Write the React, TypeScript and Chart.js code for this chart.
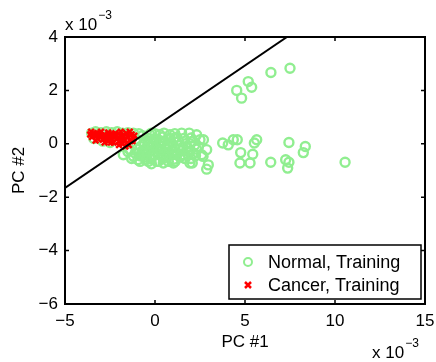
import React, { useEffect, useRef } from "react";
import { Chart, registerables } from "chart.js";

Chart.register(...registerables);

// Principal component scores, in units of 1e-3
const normalX = [
  -3.52, -3.3, -3.0, -2.7, -2.4, -2.1, -1.8, -1.5, -1.2, -0.9, -3.4, -2.9, -2.5, -1.0, -0.7,
  -1.76, -1.2, -1.5, -1.0, -0.8, -0.6, -0.4, -0.3, -0.2, 0.0, 0.28, 0.5, 0.83, 1.1, 1.48, 1.9, 2.31, 2.5, 2.69,
  -0.9, -0.5, -0.3, -0.1, 0.1, 0.3, 0.5, 0.7, 0.9, 1.1, 1.3, 1.5, 1.7, 1.9, 2.1, 2.3,
  0.2, 0.6, 1.0, 1.4, -0.6, -0.2, 0.0, 0.4, 0.8, 1.2, 1.6, 2.0, -0.7, -0.4, 0.15, 0.55, 1.8, 2.2, 2.41, 2.59, 1.57, 2.0,
  -0.83, -0.37, 0.18, 0.74, 1.11, 1.94, 2.07, 0.46, 1.02, 0.09, -0.2,
  -1.4, -1.1, -0.75, -0.45, -0.15, 0.05, 0.35, 0.65, 0.95, 1.25, 1.55, 1.85, 2.15,
  -1.3, -0.95, -0.55, -0.25, 0.25, 0.45, 0.75, 1.05, 1.35, 1.65, 1.95, 2.25,
  -0.35, 0.0, 0.35, 0.7, 1.05, 1.4, -0.85, -0.5, -0.1, 0.3,
  2.87, 2.67, 2.96, 2.87, 3.76, 4.07, 4.35, 4.57, 4.76, 4.72, 5.28, 5.43, 5.52, 5.65, 6.43, 7.26, 7.44, 7.37, 7.44, 8.24, 8.35, 10.56,
  4.54, 4.81, 5.18, 5.37, 6.44, 7.5,
];
const normalY = [
  0.4, 0.45, 0.42, 0.45, 0.42, 0.45, 0.4, 0.42, 0.4, 0.38, 0.2, 0.1, 0.05, 0.15, 0.3,
  -0.41, -0.47, -0.3, -0.2, -0.1, 0.05, 0.2, 0.35, 0.4, 0.38, 0.34, 0.4, 0.34, 0.38, 0.4, 0.4, 0.34, 0.15, 0.15,
  -0.35, -0.3, -0.15, 0.0, 0.15, -0.1, 0.1, -0.2, 0.05, -0.15, 0.1, -0.25, 0.0, -0.3, 0.1, -0.2,
  -0.4, -0.45, -0.4, -0.5, -0.5, -0.55, -0.3, 0.25, 0.2, 0.25, 0.2, 0.22, -0.25, -0.05, -0.2, -0.3, -0.15, -0.05, -0.1, -0.41, -0.41, -0.55,
  -0.66, -0.66, -0.66, -0.66, -0.66, -0.72, -0.72, -0.72, -0.72, -0.66, -0.75,
  -0.22, -0.35, -0.45, -0.4, -0.42, -0.18, -0.25, -0.35, -0.3, -0.38, -0.12, -0.42, -0.35,
  -0.55, -0.6, -0.2, 0.1, 0.05, -0.55, -0.05, -0.58, -0.2, -0.55, 0.0, -0.45,
  0.0, 0.2, 0.1, 0.0, 0.2, -0.05, -0.45, -0.6, -0.4, -0.25,
  -0.22, -0.47, -0.79, -0.95, 0.03, -0.04, 0.15, 0.15, -0.33, -0.72, -0.72, -0.39, 0.03, 0.15, -0.69, -0.6, -0.69, -0.91, 0.05, -0.33, -0.1, -0.69,
  2.0, 1.71, 2.33, 2.12, 2.67, 2.83,
];
const cancerX = [
  -3.6, -3.5, -3.4, -3.3, -3.2, -3.1, -3.0, -2.9, -2.8, -2.7, -2.6, -2.5, -2.4, -2.3, -2.25, -2.1, -2.0, -1.9,
  -1.8, -1.7, -1.6, -1.5, -1.45, -1.35, -1.3, -1.2, -3.55, -3.0, -2.6, -2.2, -1.9, -1.4, -2.0, -1.65, -2.8, -3.3,
  -3.45, -3.15, -2.85, -2.55, -2.45, -2.15, -1.85, -1.55, -1.25, -1.15, -1.75, -2.35, -3.25, -2.95, -2.65,
];
const cancerY = [
  0.35, 0.25, 0.4, 0.3, 0.2, 0.38, 0.28, 0.15, 0.35, 0.22, 0.1, 0.3, 0.18, 0.05, 0.35, 0.2, 0.1, 0.3,
  0.0, 0.15, 0.4, 0.25, -0.05, 0.1, 0.35, 0.2, 0.45, 0.45, 0.42, 0.4, 0.45, 0.45, -0.05, -0.1, 0.05, 0.12,
  0.32, 0.3, 0.25, 0.35, 0.05, 0.3, 0.15, 0.05, 0.1, 0.3, 0.3, 0.28, 0.38, 0.3, 0.18,
];

// Linear decision boundary, end points on the axes frame
const boundaryX = [-5, 7.33];
const boundaryY = [-1.65, 4];

const xTicks = [-5, 0, 5, 10, 15];
const yTicks = [-6, -4, -2, 0, 2, 4];
const seriesLabels = ["Normal, Training", "Cancer, Training"];
const axisTitles = ["PC #1", "PC #2"];
const scaleBase = "x 10";
const scaleExponent = "\u22123";

const GREEN = "#90ee90";
const RED = "#ff0000";
const FONT = "'Liberation Sans', Arial, Helvetica, sans-serif";

const fmt = (v: number) => (v < 0 ? "\u2212" + Math.abs(v) : String(v));

const framePlugin = {
  id: "matlabFrame",
  afterDatasetsDraw(chart: any) {
    const { ctx, chartArea: a, scales } = chart;
    const xs = scales.x;
    const ys = scales.y;
    ctx.save();
    // inward tick marks on all four sides
    ctx.strokeStyle = "#000";
    ctx.lineWidth = 1.5;
    const tl = 4;
    ctx.beginPath();
    xTicks.forEach((t) => {
      const px = xs.getPixelForValue(t);
      ctx.moveTo(px, a.bottom);
      ctx.lineTo(px, a.bottom - tl);
      ctx.moveTo(px, a.top);
      ctx.lineTo(px, a.top + tl);
    });
    yTicks.forEach((t) => {
      const py = ys.getPixelForValue(t);
      ctx.moveTo(a.left, py);
      ctx.lineTo(a.left + tl, py);
      ctx.moveTo(a.right, py);
      ctx.lineTo(a.right - tl, py);
    });
    ctx.stroke();
    // box
    ctx.lineWidth = 2;
    ctx.strokeRect(a.left, a.top, a.right - a.left, a.bottom - a.top);

    // exponent labels
    ctx.fillStyle = "#000";
    ctx.textBaseline = "middle";
    ctx.textAlign = "left";
    const drawExp = (x: number, y: number) => {
      ctx.font = `17px ${FONT}`;
      ctx.fillText(scaleBase, x, y);
      const w = ctx.measureText(scaleBase).width;
      ctx.font = `12px ${FONT}`;
      ctx.fillText(scaleExponent, x + w + 1, y - 9);
    };
    drawExp(a.left, a.top - 12);
    drawExp(a.right - 53, a.bottom + 49);

    // legend
    const lw = 192;
    const lh = 54;
    const lx = a.right - 196;
    const ly = a.bottom - 59;
    ctx.fillStyle = "#fff";
    ctx.fillRect(lx, ly, lw, lh);
    ctx.lineWidth = 1.5;
    ctx.strokeStyle = "#000";
    ctx.strokeRect(lx, ly, lw, lh);
    const mx = lx + 19;
    const r1 = ly + 17;
    const r2 = ly + 40;
    ctx.lineWidth = 2;
    ctx.strokeStyle = GREEN;
    ctx.beginPath();
    ctx.arc(mx, r1, 4, 0, Math.PI * 2);
    ctx.stroke();
    ctx.strokeStyle = RED;
    ctx.lineWidth = 2.5;
    ctx.beginPath();
    ctx.moveTo(mx - 3, r2 - 3);
    ctx.lineTo(mx + 3, r2 + 3);
    ctx.moveTo(mx + 3, r2 - 3);
    ctx.lineTo(mx - 3, r2 + 3);
    ctx.stroke();
    ctx.fillStyle = "#000";
    ctx.font = `18px ${FONT}`;
    ctx.fillText(seriesLabels[0], lx + 39, r1 + 1);
    ctx.fillText(seriesLabels[1], lx + 39, r2 + 1);
    ctx.restore();
  },
};

export default function App() {
  const ref = useRef<HTMLCanvasElement | null>(null);

  useEffect(() => {
    if (!ref.current) return;
    const chart = new Chart(ref.current, {
      type: "scatter",
      data: {
        datasets: [
          {
            label: "boundary",
            data: boundaryX.map((x, i) => ({ x, y: boundaryY[i] })),
            showLine: true,
            borderColor: "#000",
            borderWidth: 2,
            pointRadius: 0,
            fill: false,
          },
          {
            label: seriesLabels[1],
            data: cancerX.map((x, i) => ({ x, y: cancerY[i] })),
            pointStyle: "crossRot",
            pointRadius: 4,
            borderColor: RED,
            backgroundColor: RED,
            pointBorderWidth: 2.5,
          },
          {
            label: seriesLabels[0],
            data: normalX.map((x, i) => ({ x, y: normalY[i] })),
            pointStyle: "circle",
            pointRadius: 4.5,
            borderColor: GREEN,
            backgroundColor: "rgba(0,0,0,0)",
            pointBorderWidth: 2.4,
          },
        ],
      },
      options: {
        responsive: false,
        animation: false,
        layout: { padding: { top: 37, right: 11, left: 0, bottom: 0 } },
        plugins: { legend: { display: false }, tooltip: { enabled: false } },
        scales: {
          x: {
            type: "linear",
            min: -5,
            max: 15,
            afterBuildTicks: (s: any) => {
              s.ticks = xTicks.map((value) => ({ value }));
            },
            afterFit: (s: any) => {
              s.height = 58;
              s.paddingLeft = 0;
              s.paddingRight = 0;
            },
            grid: { display: false, drawTicks: false },
            border: { display: false },
            ticks: {
              color: "#000",
              font: { family: FONT, size: 17 },
              padding: 7,
              maxRotation: 0,
              callback: (v: any) => fmt(Number(v)),
            },
            title: {
              display: true,
              text: axisTitles[0],
              color: "#000",
              font: { family: FONT, size: 17 },
              padding: { top: 0, bottom: 9 },
            },
          },
          y: {
            type: "linear",
            min: -6,
            max: 4,
            afterBuildTicks: (s: any) => {
              s.ticks = yTicks.map((value) => ({ value }));
            },
            afterFit: (s: any) => {
              s.width = 65;
              s.paddingTop = 0;
              s.paddingBottom = 0;
            },
            grid: { display: false, drawTicks: false },
            border: { display: false },
            ticks: {
              color: "#000",
              font: { family: FONT, size: 17 },
              padding: 7,
              callback: (v: any) => fmt(Number(v)),
            },
            title: {
              display: true,
              text: axisTitles[1],
              color: "#000",
              font: { family: FONT, size: 17 },
              padding: { top: 9, bottom: 0 },
            },
          },
        },
      },
      plugins: [framePlugin],
    });
    return () => chart.destroy();
  }, []);

  return (
    <div style={{ position: "fixed", left: 0, top: 0, width: 436, height: 362, background: "#fff" }}>
      <canvas ref={ref} width={436} height={362} />
    </div>
  );
}
